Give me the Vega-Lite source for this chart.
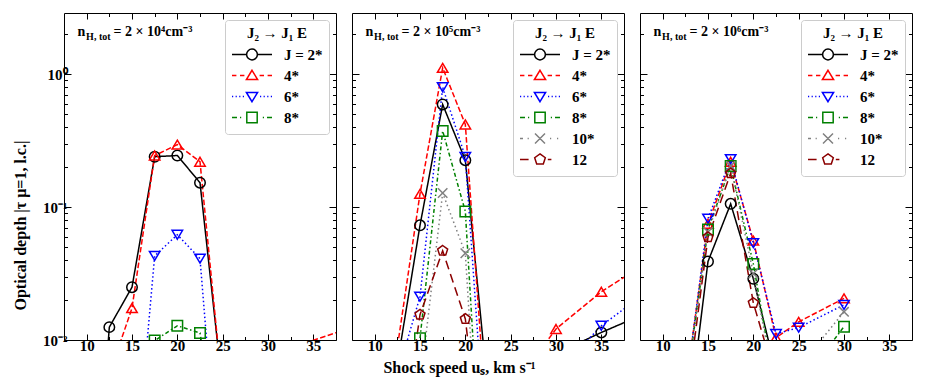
{
 "$schema": "https://vega.github.io/schema/vega-lite/v6.json",
 "padding": {"left": 12, "top": 12, "right": 5, "bottom": 5},
 "datasets": {
  "d": [
   {"p":1,"s":"J = 2*","x":10,"y":0.00007},{"p":1,"s":"J = 2*","x":12.5,"y":0.0125},{"p":1,"s":"J = 2*","x":15,"y":0.025},{"p":1,"s":"J = 2*","x":17.5,"y":0.24},{"p":1,"s":"J = 2*","x":20,"y":0.245},{"p":1,"s":"J = 2*","x":22.5,"y":0.153},{"p":1,"s":"J = 2*","x":25,"y":0.0042},
   {"p":1,"s":"4*","x":12.5,"y":0.0055},{"p":1,"s":"4*","x":15,"y":0.0174},{"p":1,"s":"4*","x":17.5,"y":0.245},{"p":1,"s":"4*","x":20,"y":0.296},{"p":1,"s":"4*","x":22.5,"y":0.22},{"p":1,"s":"4*","x":25,"y":0.004},{"p":1,"s":"4*","x":30,"y":0.0077},{"p":1,"s":"4*","x":40,"y":0.0129},
   {"p":1,"s":"6*","x":15,"y":0.0005},{"p":1,"s":"6*","x":17.5,"y":0.043},{"p":1,"s":"6*","x":20,"y":0.062},{"p":1,"s":"6*","x":22.5,"y":0.041},{"p":1,"s":"6*","x":25,"y":0.00033},
   {"p":1,"s":"8*","x":15,"y":0.001},{"p":1,"s":"8*","x":17.5,"y":0.0099},{"p":1,"s":"8*","x":20,"y":0.0128},{"p":1,"s":"8*","x":22.5,"y":0.0113},{"p":1,"s":"8*","x":25,"y":0.001},
   {"p":2,"s":"J = 2*","x":12.5,"y":0.0066},{"p":2,"s":"J = 2*","x":15,"y":0.073},{"p":2,"s":"J = 2*","x":17.5,"y":0.594},{"p":2,"s":"J = 2*","x":20,"y":0.226},{"p":2,"s":"J = 2*","x":22.5,"y":0.0041},{"p":2,"s":"J = 2*","x":25,"y":0.003},{"p":2,"s":"J = 2*","x":30,"y":0.0079},{"p":2,"s":"J = 2*","x":35,"y":0.0114},{"p":2,"s":"J = 2*","x":40,"y":0.016},
   {"p":2,"s":"4*","x":10,"y":0.0003},{"p":2,"s":"4*","x":12.5,"y":0.0088},{"p":2,"s":"4*","x":15,"y":0.126},{"p":2,"s":"4*","x":17.5,"y":1.12},{"p":2,"s":"4*","x":20,"y":0.42},{"p":2,"s":"4*","x":22.5,"y":0.0017},{"p":2,"s":"4*","x":25,"y":0.0042},{"p":2,"s":"4*","x":30,"y":0.0121},{"p":2,"s":"4*","x":35,"y":0.0231},{"p":2,"s":"4*","x":40,"y":0.038},
   {"p":2,"s":"6*","x":12.5,"y":0.0055},{"p":2,"s":"6*","x":15,"y":0.0212},{"p":2,"s":"6*","x":17.5,"y":0.8},{"p":2,"s":"6*","x":20,"y":0.239},{"p":2,"s":"6*","x":22.5,"y":0.00083},{"p":2,"s":"6*","x":25,"y":0.002},{"p":2,"s":"6*","x":30,"y":0.0056},{"p":2,"s":"6*","x":35,"y":0.0128},{"p":2,"s":"6*","x":40,"y":0.023},
   {"p":2,"s":"8*","x":12.5,"y":0.001},{"p":2,"s":"8*","x":15,"y":0.0103},{"p":2,"s":"8*","x":17.5,"y":0.375},{"p":2,"s":"8*","x":20,"y":0.093},{"p":2,"s":"8*","x":22.5,"y":0.00013},
   {"p":2,"s":"10*","x":15,"y":0.0045},{"p":2,"s":"10*","x":17.5,"y":0.128},{"p":2,"s":"10*","x":20,"y":0.045},{"p":2,"s":"10*","x":22.5,"y":0.00008},
   {"p":2,"s":"12","x":12.5,"y":0.001},{"p":2,"s":"12","x":15,"y":0.0155},{"p":2,"s":"12","x":17.5,"y":0.047},{"p":2,"s":"12","x":20,"y":0.0144},{"p":2,"s":"12","x":22.5,"y":0.0005},
   {"p":3,"s":"J = 2*","x":12.5,"y":0.0016},{"p":3,"s":"J = 2*","x":15,"y":0.039},{"p":3,"s":"J = 2*","x":17.5,"y":0.106},{"p":3,"s":"J = 2*","x":20,"y":0.0289},{"p":3,"s":"J = 2*","x":22.5,"y":0.0058},
   {"p":3,"s":"4*","x":12.5,"y":0.0042},{"p":3,"s":"4*","x":15,"y":0.075},{"p":3,"s":"4*","x":17.5,"y":0.22},{"p":3,"s":"4*","x":20,"y":0.056},{"p":3,"s":"4*","x":22.5,"y":0.0104},{"p":3,"s":"4*","x":25,"y":0.0137},{"p":3,"s":"4*","x":30,"y":0.0206},
   {"p":3,"s":"6*","x":12.5,"y":0.004},{"p":3,"s":"6*","x":15,"y":0.082},{"p":3,"s":"6*","x":17.5,"y":0.23},{"p":3,"s":"6*","x":20,"y":0.0536},{"p":3,"s":"6*","x":22.5,"y":0.0111},{"p":3,"s":"6*","x":25,"y":0.0124},{"p":3,"s":"6*","x":30,"y":0.0184},
   {"p":3,"s":"8*","x":12.5,"y":0.004},{"p":3,"s":"8*","x":15,"y":0.068},{"p":3,"s":"8*","x":17.5,"y":0.204},{"p":3,"s":"8*","x":20,"y":0.0374},{"p":3,"s":"8*","x":22.5,"y":0.004},{"p":3,"s":"8*","x":25,"y":0.0045},{"p":3,"s":"8*","x":30,"y":0.0126},
   {"p":3,"s":"10*","x":12.5,"y":0.004},{"p":3,"s":"10*","x":15,"y":0.065},{"p":3,"s":"10*","x":17.5,"y":0.204},{"p":3,"s":"10*","x":20,"y":0.0317},{"p":3,"s":"10*","x":22.5,"y":0.004},{"p":3,"s":"10*","x":25,"y":0.0062},{"p":3,"s":"10*","x":30,"y":0.0163},
   {"p":3,"s":"12","x":12.5,"y":0.003},{"p":3,"s":"12","x":15,"y":0.0594},{"p":3,"s":"12","x":17.5,"y":0.18},{"p":3,"s":"12","x":20,"y":0.019},{"p":3,"s":"12","x":22.5,"y":0.005}
  ],
  "ann": [
   {"p":1,"a":"n","b":"H, tot","c":"= 2 × 10⁴cm⁻³"},
   {"p":2,"a":"n","b":"H, tot","c":"= 2 × 10⁵cm⁻³"},
   {"p":3,"a":"n","b":"H, tot","c":"= 2 × 10⁶cm⁻³"}
  ]
 },
 "hconcat": [
  {
   "width": 272, "height": 327,
   "resolve": {"axis": {"x": "independent", "y": "independent"}},
   "layer": [
    {"data": {"name": "d"}, "transform": [{"filter": "datum.p == 1"}],
     "mark": {"type": "line", "strokeWidth": 1.5, "clip": true},
     "encoding": {
      "x": {"field": "x", "type": "quantitative", "scale": {"domain": [7.5, 37.5], "nice": false, "zero": false},
            "axis": {"values": [10,12.5,15,17.5,20,22.5,25,27.5,30,32.5,35], "labelExpr": "datum.value % 5 == 0 ? datum.label : ''", "tickSize": {"condition": {"test": "datum.value % 5 == 0", "value": -6}, "value": -3.5}, "labelPadding": 4, "title": null, "labelOverlap": false}},
      "y": {"field": "y", "type": "quantitative", "scale": {"type": "log", "domain": [0.01, 2.9], "nice": false},
            "axis": {"values": [0.01,0.02,0.03,0.04,0.05,0.06,0.07,0.08,0.09,0.1,0.2,0.3,0.4,0.5,0.6,0.7,0.8,0.9,1,2], "labelExpr": "datum.value == 1 ? '10⁰' : datum.value == 0.1 ? '10⁻¹' : datum.value == 0.01 ? '10⁻²' : ''", "tickSize": {"condition": {"test": "datum.value == 1 || datum.value == 0.1 || datum.value == 0.01", "value": -7}, "value": -3.5}, "labelPadding": 4, "labelOverlap": false, "title": "Optical depth |τ μ=1, l.c.|", "titlePadding": 14, "titleY": 212}},
      "color": {"field": "s", "type": "nominal", "scale": {"domain": ["J = 2*","4*","6*","8*"], "range": ["#000000","#ff0000","#0000ff","#008000"]},
                "legend": {"orient": "top-right", "offset": 7, "title": "J₂ → J₁ E",
                  "encode": {"symbols": {"update": {"shape": {"signal": "datum.value === 'J = 2*' ? 'M-1,0L-0.27,0M0.27,0A0.27,0.27,0,1,1,-0.27,0A0.27,0.27,0,1,1,0.27,0M0.27,0L1,0' : datum.value === '4*' ? 'M-1,0L-0.78,0M-0.6,0L-0.38,0M0,-0.26L0.28,0.2L-0.28,0.2ZM0.38,0L0.6,0M0.78,0L1,0' : datum.value === '6*' ? 'M-1,0L-0.94,0M-0.82,0L-0.76,0M-0.64,0L-0.58,0M-0.46,0L-0.4,0M0,0.26L0.28,-0.2L-0.28,-0.2ZM0.4,0L0.46,0M0.58,0L0.64,0M0.76,0L0.82,0M0.94,0L1,0' : datum.value === '8*' ? 'M-1,0L-0.75,0M-0.6,0L-0.54,0M-0.26,-0.26L0.26,-0.26L0.26,0.26L-0.26,0.26ZM0.54,0L0.6,0M0.75,0L1,0' : datum.value === '10*' ? 'M-1,0L-0.85,0M-0.62,0L-0.56,0M-0.25,-0.25L0.25,0.25M-0.25,0.25L0.25,-0.25M0.5,0L0.56,0M0.85,0L0.91,0' : 'M-1,0L-0.57,0M0,-0.28L0.266,-0.087L0.165,0.227L-0.165,0.227L-0.266,-0.087ZM0.39,0L0.57,0'"}, "stroke": {"signal": "datum.value === 'J = 2*' ? '#000000' : datum.value === '4*' ? '#ff0000' : datum.value === '6*' ? '#0000ff' : datum.value === '8*' ? '#008000' : datum.value === '10*' ? '#808080' : '#8b0000'"}, "fill": {"value": "white"}, "size": {"value": 1600}, "strokeWidth": {"value": 1.5}, "strokeDash": {"value": []}, "opacity": {"value": 1}}}}}},
      "strokeDash": {"field": "s", "type": "nominal", "scale": {"domain": ["J = 2*","4*","6*","8*","~"], "range": [[1,0],[5.5,2.4],[1.5,2.5],[4,2.5,1.5,2.5],[1,0]]}, "legend": null}
     }},
    {"data": {"name": "d"}, "transform": [{"filter": "datum.p == 1"}],
     "mark": {"type": "point", "filled": false, "size": 110, "strokeWidth": 1.5, "clip": true, "opacity": 1},
     "encoding": {
      "x": {"field": "x", "type": "quantitative", "axis": null},
      "y": {"field": "y", "type": "quantitative", "axis": null},
      "color": {"field": "s", "type": "nominal"},
      "shape": {"field": "s", "type": "nominal", "scale": {"domain": ["J = 2*","4*","6*","8*","~~"], "range": ["circle","M0,-0.85L1,0.85L-1,0.85Z","M0,0.85L1,-0.85L-1,-0.85Z","square","circle"]}, "legend": null}
     }},
    {"data": {"name": "ann"}, "transform": [{"filter": "datum.p == 1"}],
     "mark": {"type": "text", "align": "left", "baseline": "alphabetic", "fontSize": 14, "fontWeight": "bold", "font": "Liberation Serif", "color": "black"},
     "encoding": {"x": {"datum": 9, "type": "quantitative", "axis": null}, "y": {"datum": 1.94, "type": "quantitative", "axis": null}, "text": {"field": "a"}}},
    {"data": {"name": "ann"}, "transform": [{"filter": "datum.p == 1"}],
     "mark": {"type": "text", "align": "left", "baseline": "alphabetic", "fontSize": 10, "fontWeight": "bold", "font": "Liberation Serif", "color": "black", "dx": 8.5, "dy": 4},
     "encoding": {"x": {"datum": 9, "type": "quantitative", "axis": null}, "y": {"datum": 1.94, "type": "quantitative", "axis": null}, "text": {"field": "b"}}},
    {"data": {"name": "ann"}, "transform": [{"filter": "datum.p == 1"}],
     "mark": {"type": "text", "align": "left", "baseline": "alphabetic", "fontSize": 14, "fontWeight": "bold", "font": "Liberation Serif", "color": "black", "dx": 36},
     "encoding": {"x": {"datum": 9, "type": "quantitative", "axis": null}, "y": {"datum": 1.94, "type": "quantitative", "axis": null}, "text": {"field": "c"}}},
    {"data": {"name": "d"}, "transform": [{"filter": "datum.p == 1"}],
     "mark": {"type": "point", "opacity": 0, "clip": true},
     "encoding": {
      "x": {"field": "x", "type": "quantitative", "axis": {"orient": "top", "values": [10,12.5,15,17.5,20,22.5,25,27.5,30,32.5,35], "labels": false, "title": null, "tickSize": {"condition": {"test": "datum.value % 5 == 0", "value": -6}, "value": -3.5}}},
      "y": {"field": "y", "type": "quantitative", "axis": {"orient": "right", "values": [0.01,0.02,0.03,0.04,0.05,0.06,0.07,0.08,0.09,0.1,0.2,0.3,0.4,0.5,0.6,0.7,0.8,0.9,1,2], "labels": false, "title": null, "tickSize": {"condition": {"test": "datum.value == 1 || datum.value == 0.1 || datum.value == 0.01", "value": -7}, "value": -3.5}}}
     }}
   ]
  },
  {
   "width": 272, "height": 327,
   "resolve": {"axis": {"x": "independent", "y": "independent"}},
   "layer": [
    {"data": {"name": "d"}, "transform": [{"filter": "datum.p == 2"}],
     "mark": {"type": "line", "strokeWidth": 1.5, "clip": true},
     "encoding": {
      "x": {"field": "x", "type": "quantitative", "scale": {"domain": [7.5, 37.5], "nice": false, "zero": false},
            "axis": {"values": [10,12.5,15,17.5,20,22.5,25,27.5,30,32.5,35], "labelExpr": "datum.value % 5 == 0 ? datum.label : ''", "tickSize": {"condition": {"test": "datum.value % 5 == 0", "value": -6}, "value": -3.5}, "labelPadding": 4, "title": "Shock speed uₛ, km s⁻¹", "titleFontSize": 16, "titlePadding": 4, "titleX": 107, "labelOverlap": false}},
      "y": {"field": "y", "type": "quantitative", "scale": {"type": "log", "domain": [0.01, 2.9], "nice": false},
            "axis": {"values": [0.01,0.02,0.03,0.04,0.05,0.06,0.07,0.08,0.09,0.1,0.2,0.3,0.4,0.5,0.6,0.7,0.8,0.9,1,2], "labels": false, "tickSize": {"condition": {"test": "datum.value == 1 || datum.value == 0.1 || datum.value == 0.01", "value": -7}, "value": -3.5}, "title": null}},
      "color": {"field": "s", "type": "nominal", "scale": {"domain": ["J = 2*","4*","6*","8*","10*","12"], "range": ["#000000","#ff0000","#0000ff","#008000","#808080","#8b0000"]},
                "legend": {"orient": "top-right", "offset": 7, "title": "J₂ → J₁ E",
                  "encode": {"symbols": {"update": {"shape": {"signal": "datum.value === 'J = 2*' ? 'M-1,0L-0.27,0M0.27,0A0.27,0.27,0,1,1,-0.27,0A0.27,0.27,0,1,1,0.27,0M0.27,0L1,0' : datum.value === '4*' ? 'M-1,0L-0.78,0M-0.6,0L-0.38,0M0,-0.26L0.28,0.2L-0.28,0.2ZM0.38,0L0.6,0M0.78,0L1,0' : datum.value === '6*' ? 'M-1,0L-0.94,0M-0.82,0L-0.76,0M-0.64,0L-0.58,0M-0.46,0L-0.4,0M0,0.26L0.28,-0.2L-0.28,-0.2ZM0.4,0L0.46,0M0.58,0L0.64,0M0.76,0L0.82,0M0.94,0L1,0' : datum.value === '8*' ? 'M-1,0L-0.75,0M-0.6,0L-0.54,0M-0.26,-0.26L0.26,-0.26L0.26,0.26L-0.26,0.26ZM0.54,0L0.6,0M0.75,0L1,0' : datum.value === '10*' ? 'M-1,0L-0.85,0M-0.62,0L-0.56,0M-0.25,-0.25L0.25,0.25M-0.25,0.25L0.25,-0.25M0.5,0L0.56,0M0.85,0L0.91,0' : 'M-1,0L-0.57,0M0,-0.28L0.266,-0.087L0.165,0.227L-0.165,0.227L-0.266,-0.087ZM0.39,0L0.57,0'"}, "stroke": {"signal": "datum.value === 'J = 2*' ? '#000000' : datum.value === '4*' ? '#ff0000' : datum.value === '6*' ? '#0000ff' : datum.value === '8*' ? '#008000' : datum.value === '10*' ? '#808080' : '#8b0000'"}, "fill": {"value": "white"}, "size": {"value": 1600}, "strokeWidth": {"value": 1.5}, "strokeDash": {"value": []}, "opacity": {"value": 1}}}}}},
      "strokeDash": {"field": "s", "type": "nominal", "scale": {"domain": ["J = 2*","4*","6*","8*","10*","12","~"], "range": [[1,0],[5.5,2.4],[1.5,2.5],[4,2.5,1.5,2.5],[1.5,3],[9,5],[1,0]]}, "legend": null}
     }},
    {"data": {"name": "d"}, "transform": [{"filter": "datum.p == 2"}],
     "mark": {"type": "point", "filled": false, "size": 110, "strokeWidth": 1.5, "clip": true, "opacity": 1},
     "encoding": {
      "x": {"field": "x", "type": "quantitative", "axis": null},
      "y": {"field": "y", "type": "quantitative", "axis": null},
      "color": {"field": "s", "type": "nominal"},
      "shape": {"field": "s", "type": "nominal", "scale": {"domain": ["J = 2*","4*","6*","8*","10*","12","~~"], "range": ["circle","M0,-0.85L1,0.85L-1,0.85Z","M0,0.85L1,-0.85L-1,-0.85Z","square","M-0.9,-0.9L0.9,0.9M-0.9,0.9L0.9,-0.9","M0,-1L0.951,-0.309L0.588,0.809L-0.588,0.809L-0.951,-0.309Z","circle"]}, "legend": null}
     }},
    {"data": {"name": "ann"}, "transform": [{"filter": "datum.p == 2"}],
     "mark": {"type": "text", "align": "left", "baseline": "alphabetic", "fontSize": 14, "fontWeight": "bold", "font": "Liberation Serif", "color": "black"},
     "encoding": {"x": {"datum": 9, "type": "quantitative", "axis": null}, "y": {"datum": 1.94, "type": "quantitative", "axis": null}, "text": {"field": "a"}}},
    {"data": {"name": "ann"}, "transform": [{"filter": "datum.p == 2"}],
     "mark": {"type": "text", "align": "left", "baseline": "alphabetic", "fontSize": 10, "fontWeight": "bold", "font": "Liberation Serif", "color": "black", "dx": 8.5, "dy": 4},
     "encoding": {"x": {"datum": 9, "type": "quantitative", "axis": null}, "y": {"datum": 1.94, "type": "quantitative", "axis": null}, "text": {"field": "b"}}},
    {"data": {"name": "ann"}, "transform": [{"filter": "datum.p == 2"}],
     "mark": {"type": "text", "align": "left", "baseline": "alphabetic", "fontSize": 14, "fontWeight": "bold", "font": "Liberation Serif", "color": "black", "dx": 36},
     "encoding": {"x": {"datum": 9, "type": "quantitative", "axis": null}, "y": {"datum": 1.94, "type": "quantitative", "axis": null}, "text": {"field": "c"}}},
    {"data": {"name": "d"}, "transform": [{"filter": "datum.p == 2"}],
     "mark": {"type": "point", "opacity": 0, "clip": true},
     "encoding": {
      "x": {"field": "x", "type": "quantitative", "axis": {"orient": "top", "values": [10,12.5,15,17.5,20,22.5,25,27.5,30,32.5,35], "labels": false, "title": null, "tickSize": {"condition": {"test": "datum.value % 5 == 0", "value": -6}, "value": -3.5}}},
      "y": {"field": "y", "type": "quantitative", "axis": {"orient": "right", "values": [0.01,0.02,0.03,0.04,0.05,0.06,0.07,0.08,0.09,0.1,0.2,0.3,0.4,0.5,0.6,0.7,0.8,0.9,1,2], "labels": false, "title": null, "tickSize": {"condition": {"test": "datum.value == 1 || datum.value == 0.1 || datum.value == 0.01", "value": -7}, "value": -3.5}}}
     }}
   ]
  },
  {
   "width": 272, "height": 327,
   "resolve": {"axis": {"x": "independent", "y": "independent"}},
   "layer": [
    {"data": {"name": "d"}, "transform": [{"filter": "datum.p == 3"}],
     "mark": {"type": "line", "strokeWidth": 1.5, "clip": true},
     "encoding": {
      "x": {"field": "x", "type": "quantitative", "scale": {"domain": [7.5, 37.5], "nice": false, "zero": false},
            "axis": {"values": [10,12.5,15,17.5,20,22.5,25,27.5,30,32.5,35], "labelExpr": "datum.value % 5 == 0 ? datum.label : ''", "tickSize": {"condition": {"test": "datum.value % 5 == 0", "value": -6}, "value": -3.5}, "labelPadding": 4, "title": null, "labelOverlap": false}},
      "y": {"field": "y", "type": "quantitative", "scale": {"type": "log", "domain": [0.01, 2.9], "nice": false},
            "axis": {"values": [0.01,0.02,0.03,0.04,0.05,0.06,0.07,0.08,0.09,0.1,0.2,0.3,0.4,0.5,0.6,0.7,0.8,0.9,1,2], "labels": false, "tickSize": {"condition": {"test": "datum.value == 1 || datum.value == 0.1 || datum.value == 0.01", "value": -7}, "value": -3.5}, "title": null}},
      "color": {"field": "s", "type": "nominal", "scale": {"domain": ["J = 2*","4*","6*","8*","10*","12"], "range": ["#000000","#ff0000","#0000ff","#008000","#808080","#8b0000"]},
                "legend": {"orient": "top-right", "offset": 7, "title": "J₂ → J₁ E",
                  "encode": {"symbols": {"update": {"shape": {"signal": "datum.value === 'J = 2*' ? 'M-1,0L-0.27,0M0.27,0A0.27,0.27,0,1,1,-0.27,0A0.27,0.27,0,1,1,0.27,0M0.27,0L1,0' : datum.value === '4*' ? 'M-1,0L-0.78,0M-0.6,0L-0.38,0M0,-0.26L0.28,0.2L-0.28,0.2ZM0.38,0L0.6,0M0.78,0L1,0' : datum.value === '6*' ? 'M-1,0L-0.94,0M-0.82,0L-0.76,0M-0.64,0L-0.58,0M-0.46,0L-0.4,0M0,0.26L0.28,-0.2L-0.28,-0.2ZM0.4,0L0.46,0M0.58,0L0.64,0M0.76,0L0.82,0M0.94,0L1,0' : datum.value === '8*' ? 'M-1,0L-0.75,0M-0.6,0L-0.54,0M-0.26,-0.26L0.26,-0.26L0.26,0.26L-0.26,0.26ZM0.54,0L0.6,0M0.75,0L1,0' : datum.value === '10*' ? 'M-1,0L-0.85,0M-0.62,0L-0.56,0M-0.25,-0.25L0.25,0.25M-0.25,0.25L0.25,-0.25M0.5,0L0.56,0M0.85,0L0.91,0' : 'M-1,0L-0.57,0M0,-0.28L0.266,-0.087L0.165,0.227L-0.165,0.227L-0.266,-0.087ZM0.39,0L0.57,0'"}, "stroke": {"signal": "datum.value === 'J = 2*' ? '#000000' : datum.value === '4*' ? '#ff0000' : datum.value === '6*' ? '#0000ff' : datum.value === '8*' ? '#008000' : datum.value === '10*' ? '#808080' : '#8b0000'"}, "fill": {"value": "white"}, "size": {"value": 1600}, "strokeWidth": {"value": 1.5}, "strokeDash": {"value": []}, "opacity": {"value": 1}}}}}},
      "strokeDash": {"field": "s", "type": "nominal", "scale": {"domain": ["J = 2*","4*","6*","8*","10*","12","~"], "range": [[1,0],[5.5,2.4],[1.5,2.5],[4,2.5,1.5,2.5],[1.5,3],[9,5],[1,0]]}, "legend": null}
     }},
    {"data": {"name": "d"}, "transform": [{"filter": "datum.p == 3"}],
     "mark": {"type": "point", "filled": false, "size": 110, "strokeWidth": 1.5, "clip": true, "opacity": 1},
     "encoding": {
      "x": {"field": "x", "type": "quantitative", "axis": null},
      "y": {"field": "y", "type": "quantitative", "axis": null},
      "color": {"field": "s", "type": "nominal"},
      "shape": {"field": "s", "type": "nominal", "scale": {"domain": ["J = 2*","4*","6*","8*","10*","12","~~"], "range": ["circle","M0,-0.85L1,0.85L-1,0.85Z","M0,0.85L1,-0.85L-1,-0.85Z","square","M-0.9,-0.9L0.9,0.9M-0.9,0.9L0.9,-0.9","M0,-1L0.951,-0.309L0.588,0.809L-0.588,0.809L-0.951,-0.309Z","circle"]}, "legend": null}
     }},
    {"data": {"name": "ann"}, "transform": [{"filter": "datum.p == 3"}],
     "mark": {"type": "text", "align": "left", "baseline": "alphabetic", "fontSize": 14, "fontWeight": "bold", "font": "Liberation Serif", "color": "black"},
     "encoding": {"x": {"datum": 9, "type": "quantitative", "axis": null}, "y": {"datum": 1.94, "type": "quantitative", "axis": null}, "text": {"field": "a"}}},
    {"data": {"name": "ann"}, "transform": [{"filter": "datum.p == 3"}],
     "mark": {"type": "text", "align": "left", "baseline": "alphabetic", "fontSize": 10, "fontWeight": "bold", "font": "Liberation Serif", "color": "black", "dx": 8.5, "dy": 4},
     "encoding": {"x": {"datum": 9, "type": "quantitative", "axis": null}, "y": {"datum": 1.94, "type": "quantitative", "axis": null}, "text": {"field": "b"}}},
    {"data": {"name": "ann"}, "transform": [{"filter": "datum.p == 3"}],
     "mark": {"type": "text", "align": "left", "baseline": "alphabetic", "fontSize": 14, "fontWeight": "bold", "font": "Liberation Serif", "color": "black", "dx": 36},
     "encoding": {"x": {"datum": 9, "type": "quantitative", "axis": null}, "y": {"datum": 1.94, "type": "quantitative", "axis": null}, "text": {"field": "c"}}},
    {"data": {"name": "d"}, "transform": [{"filter": "datum.p == 3"}],
     "mark": {"type": "point", "opacity": 0, "clip": true},
     "encoding": {
      "x": {"field": "x", "type": "quantitative", "axis": {"orient": "top", "values": [10,12.5,15,17.5,20,22.5,25,27.5,30,32.5,35], "labels": false, "title": null, "tickSize": {"condition": {"test": "datum.value % 5 == 0", "value": -6}, "value": -3.5}}},
      "y": {"field": "y", "type": "quantitative", "axis": {"orient": "right", "values": [0.01,0.02,0.03,0.04,0.05,0.06,0.07,0.08,0.09,0.1,0.2,0.3,0.4,0.5,0.6,0.7,0.8,0.9,1,2], "labels": false, "title": null, "tickSize": {"condition": {"test": "datum.value == 1 || datum.value == 0.1 || datum.value == 0.01", "value": -7}, "value": -3.5}}}
     }}
   ]
  }
 ],
 "spacing": 14,
 "resolve": {"scale": {"color": "independent", "shape": "independent", "strokeDash": "independent", "x": "independent", "y": "independent"}, "legend": {"color": "independent"}},
 "config": {
  "font": "Liberation Serif",
  "view": {"stroke": "black", "strokeWidth": 1},
  "axis": {"labelFont": "Liberation Serif", "labelFontWeight": "bold", "labelFontSize": 15, "labelColor": "black", "titleFont": "Liberation Serif", "titleFontWeight": "bold", "titleFontSize": 16, "titleColor": "black", "domain": false, "tickColor": "black", "tickWidth": 1, "grid": false},
  "legend": {"padding": 6, "strokeColor": "#cccccc", "fillColor": "white", "cornerRadius": 3, "titleAnchor": "middle", "titleFont": "Liberation Serif", "titleFontWeight": "bold", "titleFontSize": 15, "titleColor": "black", "titlePadding": 3, "labelFont": "Liberation Serif", "labelFontWeight": "bold", "labelFontSize": 15, "labelColor": "black", "labelOffset": 11, "symbolSize": 1600, "symbolStrokeWidth": 1.5, "rowPadding": 0, "clipHeight": 21}
 }
}
